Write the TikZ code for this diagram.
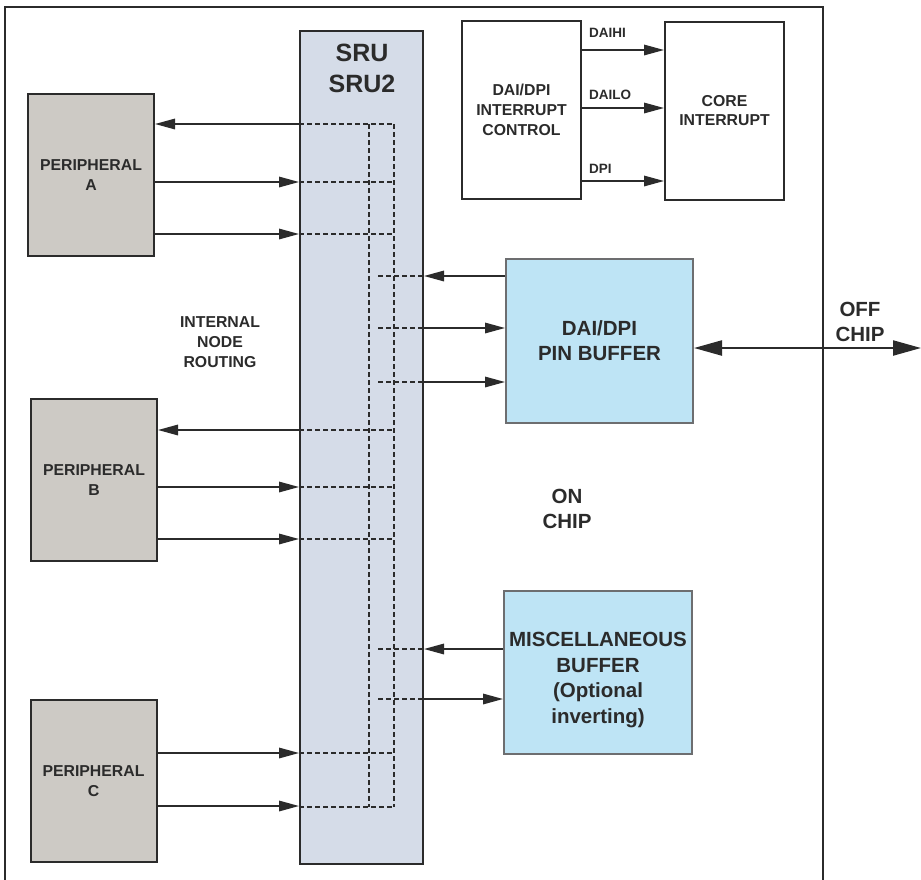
\documentclass[tikz,border=0pt]{standalone}
\usepackage{fontspec}
\setmainfont{Liberation Sans}
\usetikzlibrary{arrows.meta}
\definecolor{ink}{HTML}{2B2B2B}
\definecolor{perfill}{HTML}{CDCAC5}
\definecolor{srufill}{HTML}{D5DCE8}
\definecolor{buffill}{HTML}{BEE4F5}
\definecolor{bufdraw}{HTML}{6D6E70}
\begin{document}
\begin{tikzpicture}[x=1pt,y=-1pt,
  txt/.style={text=ink, align=center, inner sep=0pt},
  fA/.style={font=\bfseries\fontsize{15.8}{19.8}\selectfont},
  fB/.style={font=\bfseries\fontsize{13.5}{16}\selectfont},
  fC/.style={font=\bfseries\fontsize{20.5}{25}\selectfont},
  box/.style={draw=ink, line width=2pt, inner sep=0pt, txt},
  per/.style={box, fill=perfill, minimum width=126pt, minimum height=162pt, fA},
  intbox/.style={box, minimum width=119pt, minimum height=178pt, fA},
  buf/.style={draw=bufdraw, line width=2pt, fill=buffill, inner sep=0pt, txt, fC, minimum width=187pt, minimum height=164pt},
  conn/.style={draw=ink, line width=1.6pt, -{Triangle[length=20pt,width=10.5pt]}},
  dsh/.style={draw=ink, line width=1.5pt, dash pattern=on 5pt off 3pt},
  biarr/.style={draw=ink, line width=2.2pt, {Triangle[length=28pt,width=15pt]}-{Triangle[length=28pt,width=15pt]}}
]
\useasboundingbox (0,0) rectangle (921,879);
\clip (0,0) rectangle (921,879);

% chip frame
\node[draw=ink, line width=2pt, minimum width=818pt, minimum height=884pt, inner sep=0pt] (chip) at (414,449) {};

% SRU
\node[box, fill=srufill, minimum width=123pt, minimum height=833pt] (sru) at (361.5,447.5) {};
\node[txt, font=\bfseries\fontsize{25}{31}\selectfont] (srut) at (362,68) {SRU\\SRU2};

% peripherals
\node[per] (pa) at (91,175) {PERIPHERAL\\A};
\node[per] (pb) at (94,480) {PERIPHERAL\\B};
\node[per] (pc) at (93.5,781) {PERIPHERAL\\C};

% interrupt boxes
\node[intbox] (ic) at (521.5,110) {DAI/DPI\\INTERRUPT\\CONTROL};
\node[intbox] (ci) at (724.5,110.5) {CORE\\INTERRUPT};

% buffers
\node[buf] (pin) at (599.5,341) {DAI/DPI\\PIN BUFFER};
\node[buf, minimum width=188pt, minimum height=163pt] (misc) at (598,672.5) {};
\node[txt, font=\bfseries\fontsize{20.5}{25.8}\selectfont] (misct) at (598,680) {MISCELLANEOUS\\BUFFER\\(Optional\\inverting)};

% free labels
\node[txt, fA] (inr) at (220,342) {INTERNAL\\NODE\\ROUTING};
\node[txt, fC] (onc) at (567,509) {ON\\CHIP};
\node[txt, fC] (offc) at (860,322) {OFF\\CHIP};
\node[txt, fB, anchor=west] (l1) at (589,33) {DAIHI};
\node[txt, fB, anchor=west] (l2) at (589,95) {DAILO};
\node[txt, fB, anchor=west] (l3) at (589,169) {DPI};

% bus coordinates
\coordinate (bLt) at (369,124);
\coordinate (bLb) at (369,807);
\coordinate (bRt) at (394,124);
\coordinate (bRb) at (394,807);
\coordinate (tapx) at (378,0);
\coordinate (offend) at (921,348);

% dashed routing
\draw[dsh] (bLt) -- (bLb);
\draw[dsh] (bRt) -- (bRb);
\foreach \yy in {124,182,234,430,487,539,753,807}
  \draw[dsh] (sru.west |- 0,\yy) -- (bRt |- 0,\yy);
\foreach \yy in {276,328,382,649,699}
  \draw[dsh] (tapx |- 0,\yy) -- (sru.east |- 0,\yy);

% peripheral connectors
\draw[conn] (sru.west |- 0,124) -- (pa.east |- 0,124);
\draw[conn] (pa.east |- 0,182) -- (sru.west |- 0,182);
\draw[conn] (pa.east |- 0,234) -- (sru.west |- 0,234);
\draw[conn] (sru.west |- 0,430) -- (pb.east |- 0,430);
\draw[conn] (pb.east |- 0,487) -- (sru.west |- 0,487);
\draw[conn] (pb.east |- 0,539) -- (sru.west |- 0,539);
\draw[conn] (pc.east |- 0,753) -- (sru.west |- 0,753);
\draw[conn] (pc.east |- 0,806) -- (sru.west |- 0,806);

% buffer connectors
\draw[conn] (pin.west |- 0,276) -- (sru.east |- 0,276);
\draw[conn] (sru.east |- 0,328) -- (pin.west |- 0,328);
\draw[conn] (sru.east |- 0,382) -- (pin.west |- 0,382);
\draw[conn] (misc.west |- 0,649) -- (sru.east |- 0,649);
\draw[conn] (sru.east |- 0,699) -- (misc.west |- 0,699);

% interrupt connectors
\draw[conn] (ic.east |- 0,50) -- (ci.west |- 0,50);
\draw[conn] (ic.east |- 0,108) -- (ci.west |- 0,108);
\draw[conn] (ic.east |- 0,181) -- (ci.west |- 0,181);

% off chip
\draw[biarr] (pin.east |- 0,348) -- (offend);
\end{tikzpicture}
\end{document}
